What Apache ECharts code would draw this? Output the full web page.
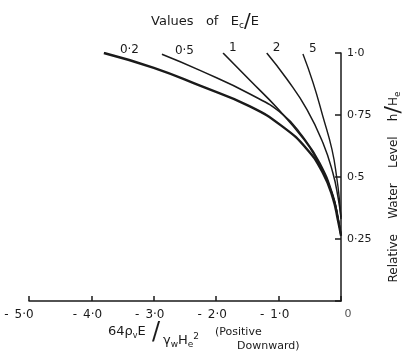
<!DOCTYPE html>
<html>
<head>
<meta charset="utf-8">
<script src="https://cdn.jsdelivr.net/npm/echarts@6/dist/echarts.min.js"></script>
<style>
  html, body { margin: 0; padding: 0; background: #fff; }
  #chart { width: 414px; height: 359px; }
</style>
</head>
<body>
<div id="chart"></div>
<script>
// Значения Ec/E для кривых
const curveNames = ["0·2", "0·5", "1", "2", "5"];

// Точки кривых [64ρvE/γwHe², h/He], снизу вверх
const curve02 = [[0, 0.264], [-0.048, 0.325], [-0.13, 0.415], [-0.29, 0.516], [-0.545, 0.612], [-0.93, 0.702], [-1.46, 0.785], [-2.26, 0.868], [-3.0, 0.94], [-3.8, 1.0]];
const curve05 = [[0, 0.264], [-0.048, 0.333], [-0.13, 0.427], [-0.34, 0.557], [-0.62, 0.665], [-0.93, 0.752], [-1.46, 0.835], [-2.26, 0.93], [-2.87, 0.995]];
const curve1 = [[0, 0.264], [-0.016, 0.29], [-0.096, 0.394], [-0.224, 0.488], [-0.385, 0.569], [-0.59, 0.65], [-1.03, 0.78], [-1.46, 0.89], [-1.89, 1.0]];
const curve2 = [[0, 0.337], [-0.048, 0.419], [-0.13, 0.516], [-0.29, 0.638], [-0.545, 0.772], [-0.865, 0.894], [-1.19, 1.0]];
const curve5 = [[0, 0.33], [-0.03, 0.42], [-0.064, 0.49], [-0.144, 0.61], [-0.29, 0.744], [-0.45, 0.882], [-0.61, 0.996]];

// Подписи делений
const xTickValues = [-5, -4, -3, -2, -1, 0];
const xTickLabels = ["-5·0", "-4·0", "-3·0", "-2·0", "-1·0", "0"];
const yTickValues = [0, 0.25, 0.5, 0.75, 1];
const yTickLabels = ["", "0·25", "0·5", "0·75", "1·0"];

const curves = [curve02, curve05, curve1, curve2, curve5];
const widths = [2.4, 1.6, 1.6, 1.5, 1.4];
const labelOffsets = [[8, -3], [5, -3], [-2, -5], [-2, -5], [-2, -5]];

const font = "DejaVu Sans";
const ink = "#1a1a1a";

const chart = echarts.init(document.getElementById("chart"));

const option = {
    animation: false,
    backgroundColor: "#fff",
    textStyle: { fontFamily: font, color: ink },
    grid: { left: 29, right: 73, top: 53, bottom: 58, containLabel: false, outerBoundsMode: "none" },
    xAxis: {
        type: "value",
        min: -5, max: 0, interval: 1,
        axisLine: { lineStyle: { color: ink, width: 1.5 } },
        axisTick: { inside: true, length: 5, lineStyle: { color: ink, width: 1.5 } },
        splitLine: { show: false },
        axisLabel: {
            margin: 8, fontSize: 12, color: ink, fontFamily: font,
            formatter: (v) => {
                const i = xTickValues.indexOf(v);
                if (i < 0) return "";
                const s = xTickLabels[i];
                if (v === 0) return "{z|" + s + "}";
                // минус стоит отдельно, как в оригинале
                return "{m|" + s.charAt(0) + "}{" + (i === 0 ? "f" : "n") + "|" + s.slice(1) + "}";
            },
            rich: {
                z: { padding: [0, 0, 0, 14], fontSize: 11, color: "#555" },
                m: { padding: [0, 6, 0, 0], fontSize: 12 },
                n: { padding: [0, 8, 0, 0], fontSize: 12 },
                f: { padding: [0, 20, 0, 0], fontSize: 12 }
            }
        }
    },
    yAxis: {
        type: "value",
        position: "right",
        min: 0, max: 1, interval: 0.25,
        axisLine: { lineStyle: { color: ink, width: 1.5 } },
        axisTick: { inside: true, length: 6, lineStyle: { color: ink, width: 1.5 } },
        splitLine: { show: false },
        axisLabel: {
            margin: 6, fontSize: 11, color: ink, fontFamily: font,
            formatter: (v) => {
                const i = yTickValues.indexOf(v);
                return i < 0 ? "" : yTickLabels[i];
            }
        }
    },
    series: curves.map((data, i) => ({
        name: curveNames[i],
        type: "line",
        data: data,
        smooth: 0.5,
        symbol: "none",
        lineStyle: { color: ink, width: widths[i] },
        endLabel: {
            show: true,
            formatter: curveNames[i],
            offset: labelOffsets[i],
            fontSize: 12, color: ink, fontFamily: font
        }
    })),
    graphic: [
        {
            type: "text", x: 205, y: 22,
            style: {
                text: "Values   of   E{s|c}{sl|/}E",
                align: "center", verticalAlign: "middle",
                font: "13px " + font, fill: ink,
                rich: {
                    s: { fontSize: 9, padding: [8, 0, 0, 0], fontFamily: font },
                    sl: { fontSize: 20, fontFamily: font }
                }
            }
        },
        {
            type: "text", x: 108, y: 332,
            style: {
                text: "64ρ{s|v}E",
                align: "left", verticalAlign: "middle",
                font: "13px " + font, fill: ink,
                rich: { s: { fontSize: 8, padding: [8, 0, 0, 0], fontFamily: font } }
            }
        },
        {
            type: "text", x: 156, y: 333,
            style: { text: "/", align: "center", verticalAlign: "middle", font: "24px " + font, fill: ink }
        },
        {
            type: "text", x: 163, y: 341,
            style: {
                text: "γ{s|w}H{s|e}{p|2}",
                align: "left", verticalAlign: "middle",
                font: "13px " + font, fill: ink,
                rich: {
                    s: { fontSize: 9, padding: [8, 0, 0, 0], fontFamily: font },
                    p: { fontSize: 9, padding: [0, 0, 9, 0], fontFamily: font }
                }
            }
        },
        {
            type: "text", x: 215, y: 332,
            style: { text: "(Positive", align: "left", verticalAlign: "middle", font: "11px " + font, fill: ink }
        },
        {
            type: "text", x: 237, y: 346,
            style: { text: "Downward)", align: "left", verticalAlign: "middle", font: "11px " + font, fill: ink }
        },
        {
            type: "text", x: 394, y: 187, rotation: Math.PI / 2,
            style: {
                text: "Relative    Water    Level    h{sl|/}H{s|e}",
                align: "center", verticalAlign: "middle",
                font: "12px " + font, fill: ink,
                rich: {
                    s: { fontSize: 9, padding: [8, 0, 0, 0], fontFamily: font },
                    sl: { fontSize: 22, fontFamily: font }
                }
            }
        }
    ]
};

chart.setOption(option);
</script>
</body>
</html>
